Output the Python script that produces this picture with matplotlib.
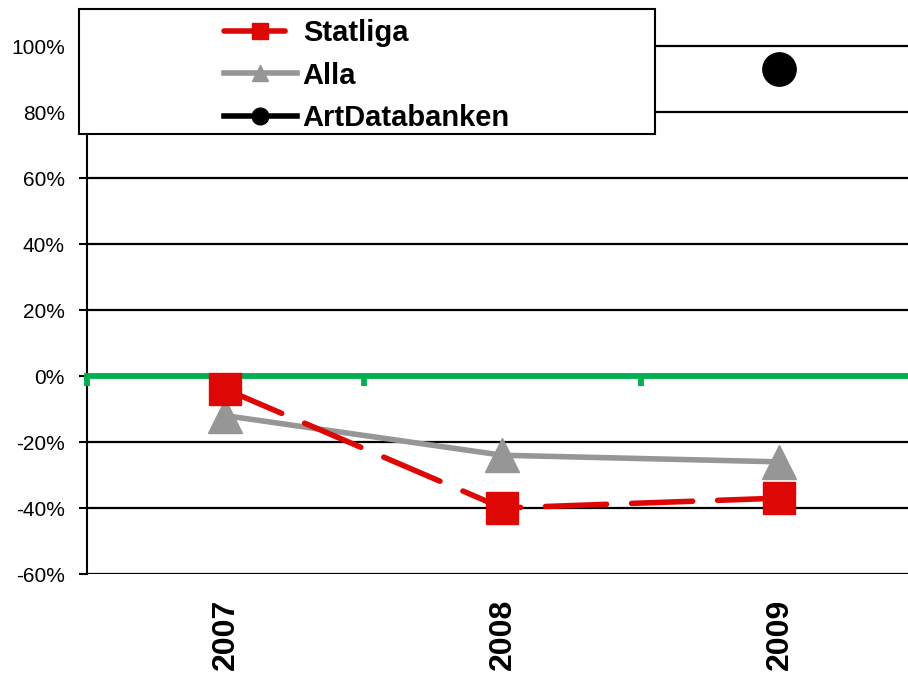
import numpy as np
import matplotlib.pyplot as plt
from matplotlib.patches import Rectangle
from matplotlib.ticker import PercentFormatter

plt.rcParams['font.family'] = ['Liberation Sans', 'DejaVu Sans']
plt.rcParams['axes.unicode_minus'] = False

# data
years = ['2007', '2008', '2009']
statliga = [-4, -40, -37]
alla = [-12, -24, -26]
artdb = [93]   # only 2009

x = np.arange(len(years))

fig = plt.figure(figsize=(9.08, 6.77), dpi=100)
ax = fig.add_axes([87/908, 1 - 574/677, 1 - 87/908, 574/677])

ax.set_xlim(-0.5, 2.464)
ax.set_ylim(-60, 114)

# horizontal grid
ax.set_yticks(np.arange(-60, 101, 20))
ax.yaxis.set_major_formatter(PercentFormatter(decimals=0))
ax.set_axisbelow(True)
ax.grid(axis='y', color='black', lw=1.6)
ax.tick_params(axis='y', length=6, width=1.5, pad=10, labelsize=15)

for s in ['top', 'right', 'bottom']:
    ax.spines[s].set_visible(False)
ax.spines['left'].set_linewidth(1.5)
ax.spines['left'].set_bounds(-60, 110)

# year labels at the bottom
ax.set_xticks(x)
ax.set_xticklabels(years, rotation=90, fontweight='bold', fontsize=23)
ax.tick_params(axis='x', length=0, pad=18)

# green category axis crossing at 0
sec = ax.secondary_xaxis(60 / 174)
sec.set_zorder(2.5)
sec.spines['bottom'].set_color('#00B050')
sec.spines['bottom'].set_linewidth(4.2)
sec.set_xticks([-0.5, 0.5, 1.5])
sec.set_xticklabels([])
sec.tick_params(axis='x', colors='#00B050', length=7, width=4.2, direction='out')

l1, = ax.plot(x, statliga, color='#DD0806', lw=4, ls=(0, (11, 4.5)),
              dash_capstyle='round', marker='s', ms=23, zorder=4, label='Statliga')
l2, = ax.plot(x, alla, color='#969696', lw=4, marker='^', ms=24,
              zorder=3, label='Alla')
l3, = ax.plot([2], artdb, color='black', lw=4, marker='o', ms=24,
              zorder=5, label='ArtDatabanken')

# legend box
fig.patches.append(Rectangle((79/908, 1 - 134/677), (655-79)/908, (134-9)/677,
                             transform=fig.transFigure, facecolor='white',
                             edgecolor='black', lw=1.5, zorder=10))
leg = fig.legend(handles=[l1, l2, l3], loc='upper left',
                 bbox_to_anchor=(224/908, 1 - 19/677), frameon=False,
                 prop={'weight': 'bold', 'size': 21}, markerscale=0.5,
                 handlelength=2.5, handletextpad=0.2, labelspacing=0.5,
                 borderpad=0, borderaxespad=0)
leg.set_zorder(11)

fig.savefig('out.png', dpi=100)
